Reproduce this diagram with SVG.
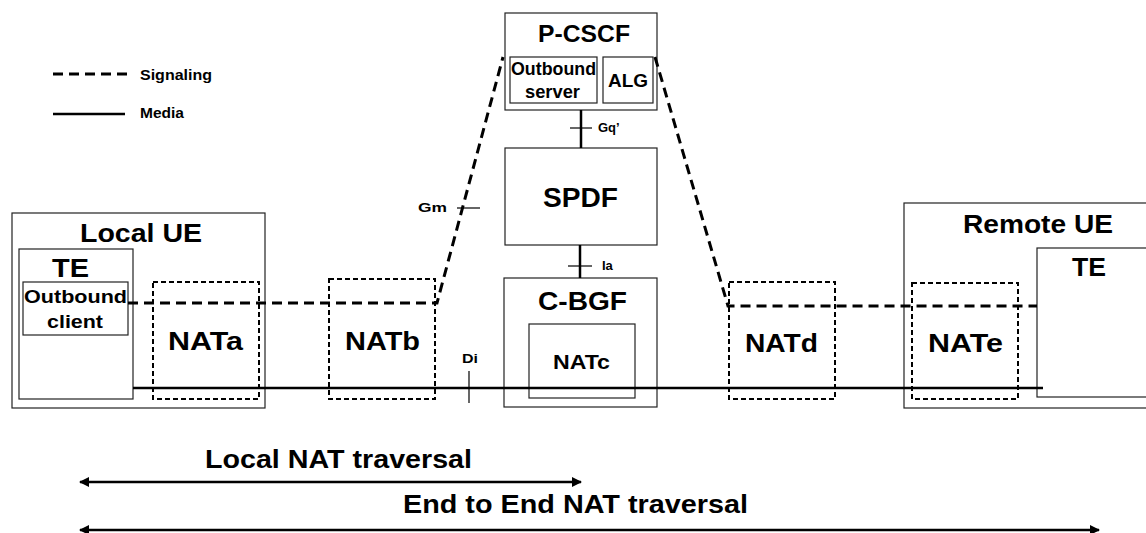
<svg xmlns="http://www.w3.org/2000/svg" width="1146" height="533" viewBox="0 0 1146 533">
<style>
text{font-family:"Liberation Sans",Arial,sans-serif;font-weight:bold;fill:#000}
.box{fill:#fff;stroke:#222;stroke-width:1.2}
.nat{fill:none;stroke:#000;stroke-width:2;stroke-dasharray:5 3}
.sig{fill:none;stroke:#000;stroke-width:3;stroke-dasharray:10 6}
.med{fill:none;stroke:#000;stroke-width:2.5}
.tick{fill:none;stroke:#000;stroke-width:1.2}
.big{font-size:25px}
.mid{font-size:18px}
.sm{font-size:13px}
.arr{fill:none;stroke:#000;stroke-width:2.5;marker-start:url(#ah);marker-end:url(#ah)}
</style>
<defs>
<marker id="ah" viewBox="0 0 10 10" refX="9" refY="5" markerWidth="4" markerHeight="4" orient="auto-start-reverse" markerUnits="strokeWidth">
<path d="M0,0 L10,5 L0,10 z" fill="#000"/>
</marker>
</defs>
<rect width="1146" height="533" fill="#fff"/>

<g id="legend">
<line x1="53" y1="74" x2="128" y2="74" class="sig"/>
<text x="140" y="80" font-size="15" textLength="72" lengthAdjust="spacingAndGlyphs">Signaling</text>
<line x1="53" y1="114" x2="125" y2="114" class="med" stroke-width="2"/>
<text x="140" y="118" font-size="15" textLength="44" lengthAdjust="spacingAndGlyphs">Media</text>
</g>

<g id="local-ue">
<rect x="12" y="213" width="253" height="195" class="box"/>
<text x="80" y="242" class="big" textLength="122" lengthAdjust="spacingAndGlyphs">Local UE</text>
</g>
<g id="local-te">
<rect x="19" y="249" width="114" height="150" class="box"/>
<text x="52" y="277" class="big" textLength="37" lengthAdjust="spacingAndGlyphs">TE</text>
</g>
<g id="outbound-client">
<rect x="23" y="282" width="105" height="53" class="box"/>
<text x="24" y="303" font-size="19" textLength="103" lengthAdjust="spacingAndGlyphs">Outbound</text>
<text x="47" y="328" font-size="19" textLength="56" lengthAdjust="spacingAndGlyphs">client</text>
</g>

<g id="nata">
<rect x="153" y="282" width="106" height="117" class="nat"/>
<text x="168" y="350" class="big" textLength="75" lengthAdjust="spacingAndGlyphs">NATa</text>
</g>
<g id="natb">
<rect x="329" y="279" width="106" height="120" class="nat"/>
<text x="345" y="350" class="big" textLength="75" lengthAdjust="spacingAndGlyphs">NATb</text>
</g>

<g id="p-cscf">
<rect x="505" y="13" width="152" height="97" class="box"/>
<text x="538" y="42" font-size="24" textLength="92" lengthAdjust="spacingAndGlyphs">P-CSCF</text>
</g>
<g id="outbound-server">
<rect x="510" y="57" width="87" height="46" class="box"/>
<text x="511" y="75" font-size="18" textLength="85" lengthAdjust="spacingAndGlyphs">Outbound</text>
<text x="525" y="98" font-size="18" textLength="55" lengthAdjust="spacingAndGlyphs">server</text>
</g>
<g id="alg">
<rect x="603" y="57" width="50" height="46" class="box"/>
<text x="608" y="87" font-size="18" textLength="40" lengthAdjust="spacingAndGlyphs">ALG</text>
</g>

<g id="spdf">
<rect x="505" y="148" width="152" height="97" class="box"/>
<text x="543" y="207" font-size="27" textLength="75" lengthAdjust="spacingAndGlyphs">SPDF</text>
</g>

<g id="c-bgf">
<rect x="504" y="278" width="153" height="129" class="box"/>
<text x="538" y="310" class="big" textLength="89" lengthAdjust="spacingAndGlyphs">C-BGF</text>
</g>
<g id="natc">
<rect x="529" y="324" width="106" height="74" class="box"/>
<text x="553" y="369" font-size="20" textLength="57" lengthAdjust="spacingAndGlyphs">NATc</text>
</g>

<g id="natd">
<rect x="729" y="282" width="106" height="117" class="nat"/>
<text x="745" y="352" class="big" textLength="73" lengthAdjust="spacingAndGlyphs">NATd</text>
</g>

<g id="remote-ue">
<rect x="904" y="203" width="250" height="205" class="box"/>
<text x="963" y="233" class="big" textLength="150" lengthAdjust="spacingAndGlyphs">Remote UE</text>
</g>
<g id="nate">
<rect x="912" y="283" width="106" height="116" class="nat"/>
<text x="928" y="352" class="big" textLength="75" lengthAdjust="spacingAndGlyphs">NATe</text>
</g>
<g id="remote-te">
<rect x="1037" y="248" width="120" height="149" class="box"/>
<text x="1072" y="276" class="big" textLength="34" lengthAdjust="spacingAndGlyphs">TE</text>
</g>

<g id="connectors">
<polyline points="128,303 437,303 503,57" class="sig"/>
<polyline points="655,57 728,306 1037,306" class="sig"/>
<line x1="133" y1="388" x2="1043" y2="388" class="med"/>
<line x1="581" y1="110" x2="581" y2="148" class="med" stroke-width="2"/>
<line x1="570" y1="128" x2="592" y2="128" class="tick"/>
<text x="598" y="132" class="sm">Gq’</text>
<line x1="580" y1="245" x2="580" y2="278" class="med" stroke-width="2"/>
<line x1="568" y1="266" x2="592" y2="266" class="tick"/>
<text x="602" y="270" class="sm">Ia</text>
<line x1="457" y1="208" x2="480" y2="208" class="tick"/>
<text x="418" y="212" class="sm" textLength="29" lengthAdjust="spacingAndGlyphs">Gm</text>
<line x1="469" y1="371" x2="469" y2="403" class="tick"/>
<text x="462" y="363" class="sm" textLength="16" lengthAdjust="spacingAndGlyphs">Di</text>
</g>

<g id="ranges">
<line x1="80" y1="482" x2="581" y2="482" class="arr"/>
<text x="205" y="468" font-size="25" textLength="267" lengthAdjust="spacingAndGlyphs">Local NAT traversal</text>
<line x1="80" y1="530" x2="1099" y2="530" class="arr"/>
<text x="403" y="513" font-size="25" textLength="345" lengthAdjust="spacingAndGlyphs">End to End NAT traversal</text>
</g>
</svg>
